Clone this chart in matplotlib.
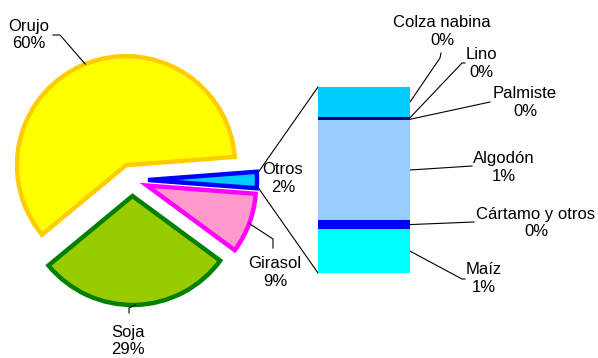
import matplotlib
matplotlib.use('Agg')
import matplotlib.pyplot as plt
import numpy as np

plt.rcParams['font.family'] = ['Liberation Sans', 'DejaVu Sans']

W, H = 598, 358

# main pie data (share of total, %)
pie_labels = ['Orujo', 'Soja', 'Girasol', 'Otros']
pie_values = [59.8, 28.9, 8.9, 2.41]
pie_fill = ['#FFFF00', '#99CC00', '#FF99CC', '#00CCFF']
pie_edge = ['#FFCC00', '#008000', '#FF00FF', '#0000FF']

# breakdown of "Otros" (bottom to top in the bar)
bar_labels = ['Maíz', 'Cártamo y otros', 'Algodón', 'Palmiste', 'Lino', 'Colza nabina']
bar_values = [0.57, 0.12, 1.30, 0.02, 0.02, 0.39]
bar_colors = ['#00FFFF', '#0000FF', '#99CCFF', '#000080', '#000080', '#00CCFF']


def px(x, y):
    # pixel position (y from top) -> axes data
    return x, H - y


fig = plt.figure(figsize=(W / 100, H / 100), dpi=100)
ax = fig.add_axes([0, 0, 1, 1])

total = sum(pie_values)
start = 180.0 * pie_values[-1] / total  # "Otros" centred on the right
cx, cy = px(132, 180)
R = 109
expl = 16  # explode distance in data units (pixels here)
wedges, _ = ax.pie(pie_values, explode=[expl] * 4, startangle=start, center=(cx, cy),
                   radius=R, colors=pie_fill, counterclock=True,
                   wedgeprops=dict(linewidth=3.2, joinstyle='miter'))
for w, ec in zip(wedges, pie_edge):
    w.set_edgecolor(ec)
ax.set_xlim(0, W)
ax.set_ylim(0, H)
ax.set_aspect('equal')
ax.axis('off')

# bar of "Otros"
bx0, by0, bw, bh = 318, 273, 92, 186
bax = fig.add_axes([bx0 / W, (H - by0) / H, bw / W, bh / H])
bottom = np.concatenate([[0], np.cumsum(bar_values)[:-1]])
bax.bar(0.5, bar_values, width=1.0, bottom=bottom, color=bar_colors, linewidth=0)
bax.set_xlim(0, 1)
bax.set_ylim(0, sum(bar_values))
bax.axis('off')


def bar_to_main(x, y):
    p = bax.transData.transform((x, y))
    return ax.transData.inverted().transform(p)


def pct(v):
    return '%d%%' % round(v / total * 100)


lc = dict(color='black', lw=0.8)
txt = dict(ha='center', va='center', fontsize=12, linespacing=1.25)

# pie wedge geometry
angles = np.cumsum([0] + pie_values) / total * 360 + start
mids = (angles[:-1] + angles[1:]) / 2
pie_text = [(29, 35), (128, 341), (275, 273), (283, 178)]
pie_elbow = [[(60, 35), (53, 35)], [(129, 308), (129, 313)], [(273, 239), (273, 248)], None]
for i, lab in enumerate(pie_labels):
    a = np.deg2rad(mids[i])
    ox = cx + expl * np.cos(a)
    oy = cy + expl * np.sin(a)
    anc = (ox + R * np.cos(a), oy + R * np.sin(a))
    if pie_elbow[i] is not None:
        pts = [anc] + [px(*p) for p in pie_elbow[i]]
        xs, ys = zip(*pts)
        ax.plot(xs, ys, **lc)
    ax.text(*px(*pie_text[i]), lab + '\n' + pct(pie_values[i]), **txt)

# lines joining "Otros" wedge to the bar
a0 = np.deg2rad(angles[-2])
a1 = np.deg2rad(angles[-1])
ox = cx + expl * np.cos(np.deg2rad(mids[-1]))
oy = cy + expl * np.sin(np.deg2rad(mids[-1]))
for a, ybar in [(a1, sum(bar_values)), (a0, 0)]:
    p0 = (ox + (R + 2) * np.cos(a), oy + (R + 2) * np.sin(a))
    p1 = bar_to_main(0, ybar)
    ax.plot([p0[0], p1[0]], [p0[1], p1[1]], **lc)

# bar labels
bar_text = [(484, 279), (536, 223), (504, 167.5), (525, 103), (481, 63.5), (442, 31.5)]
bar_elbow = [[(462, 279), (465, 279)], [(474, 222)], [(472, 166)], [(490, 102)],
             [(462, 63), (465, 63)], [(440, 58), (441, 53)]]
for i, lab in enumerate(bar_labels):
    anc = bar_to_main(1, bottom[i] + bar_values[i] / 2)
    pts = [anc] + [px(*p) for p in bar_elbow[i]]
    xs, ys = zip(*pts)
    ax.plot(xs, ys, **lc)
    ax.text(*px(*bar_text[i]), lab + '\n' + pct(bar_values[i]), **txt)

fig.savefig('out.png', dpi=100)
